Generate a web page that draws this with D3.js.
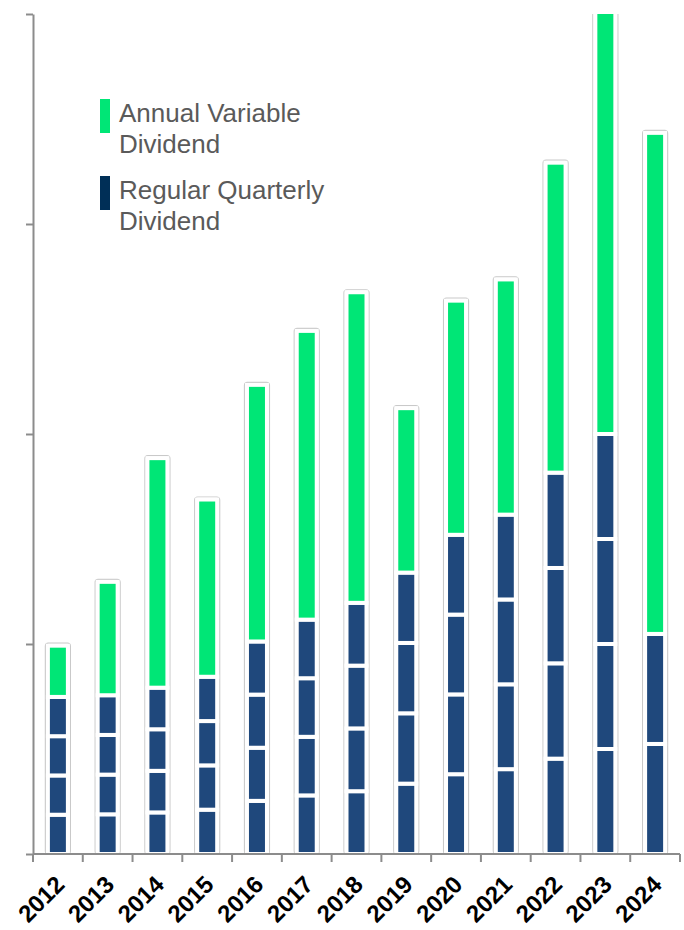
<!DOCTYPE html>
<html>
<head>
<meta charset="utf-8">
<script src="https://cdn.jsdelivr.net/npm/d3@7"></script>
<style>
  html, body { margin: 0; padding: 0; background: #ffffff; }
  svg { display: block; }
</style>
</head>
<body>
<svg id="chart" width="684" height="930"></svg>
<script>
// ---- data (values in axis-tick units) ----
const years = ["2012","2013","2014","2015","2016","2017","2018","2019","2020","2021","2022","2023","2024"];
const quarter1 = [0.187,0.189,0.198,0.211,0.253,0.279,0.299,0.335,0.380,0.404,0.454,0.500,0.524];
const quarter2 = [0.187,0.189,0.198,0.211,0.253,0.279,0.299,0.335,0.380,0.404,0.454,0.500,0.524];
const quarter3 = [0.187,0.189,0.198,0.211,0.253,0.279,0.299,0.335,0.380,0.404,0.454,0.500,0];
const quarter4 = [0.187,0.189,0.198,0.211,0.253,0.279,0.299,0.335,0.380,0.404,0.454,0.500,0];
const annualVariable = [0.244,0.540,1.093,0.844,1.222,1.375,1.479,0.783,1.115,1.120,1.476,2.050,2.386];
const yTickValues = [0,1,2,3,4];
const legendLabels = [["Annual Variable","Dividend"],["Regular Quarterly","Dividend"]];

// ---- layout / style ----
const W = 684, H = 930;
const mLeft = 33, mRight = 680, mTop = 14, mBottom = 854;
const colVariable = "#00e676";
const colQuarter = "#1f487c";
const colQuarterLegend = "#002f57";
const axisColor = "#8c8c8c";
const fontFamily = "'Liberation Sans', Arial, Helvetica, sans-serif";

const svg = d3.select("#chart");

const rows = years.map((yr, i) => ({
  year: yr, q1: quarter1[i], q2: quarter2[i], q3: quarter3[i], q4: quarter4[i], variable: annualVariable[i]
}));
const keys = ["q1","q2","q3","q4","variable"];
const stacked = d3.stack().keys(keys)(rows);

const x = d3.scaleBand().domain(years).range([mLeft, mRight]).paddingInner(0).paddingOuter(0);
const y = d3.scaleLinear().domain([0, 4]).range([mBottom, mTop]);

// clip to plot area
svg.append("defs").append("clipPath").attr("id", "plotClip")
  .append("rect").attr("x", 0).attr("y", mTop).attr("width", W).attr("height", mBottom - mTop + 2);

const plot = svg.append("g").attr("clip-path", "url(#plotClip)");

const cx = d => x(d) + x.bandwidth() / 2;
const totals = rows.map(r => keys.reduce((s, k) => s + r[k], 0));

// bar containers (white with light grey outline)
plot.selectAll("rect.container").data(rows).join("rect")
  .attr("class", "container")
  .attr("x", d => cx(d.year) - 12.5)
  .attr("width", 25)
  .attr("y", (d, i) => y(totals[i]) - 2.5)
  .attr("height", (d, i) => mBottom - y(totals[i]) + 2.5)
  .attr("rx", 3).attr("ry", 3)
  .attr("fill", "#ffffff")
  .attr("stroke", "#c9c9c9")
  .attr("stroke-width", 1.2);

// segments
stacked.forEach(layer => {
  const color = layer.key === "variable" ? colVariable : colQuarter;
  plot.append("g").selectAll("rect").data(layer.filter(d => d[1] - d[0] > 0)).join("rect")
    .attr("x", d => cx(d.data.year) - 10)
    .attr("width", 20)
    .attr("y", d => y(d[1]))
    .attr("height", d => y(d[0]) - y(d[1]))
    .attr("fill", color)
    .attr("stroke", "#ffffff")
    .attr("stroke-width", 4);
});

// y axis
const yAxis = svg.append("g").attr("transform", `translate(${mLeft},0)`)
  .call(d3.axisLeft(y).tickValues(yTickValues).tickSize(7).tickSizeOuter(0).tickFormat(""));
yAxis.selectAll("path, line").attr("stroke", axisColor).attr("stroke-width", 2);

// x axis: baseline + ticks at band edges
const xAxis = svg.append("g").attr("transform", `translate(0,${mBottom})`);
xAxis.append("line").attr("x1", mLeft).attr("x2", mRight).attr("y1", 0).attr("y2", 0)
  .attr("stroke", axisColor).attr("stroke-width", 2);
const edges = years.map(d => x(d)).concat([x(years[years.length - 1]) + x.bandwidth()]);
xAxis.selectAll("line.tick").data(edges).join("line").attr("class", "tick")
  .attr("x1", d => d).attr("x2", d => d).attr("y1", 0).attr("y2", 8)
  .attr("stroke", axisColor).attr("stroke-width", 2);

xAxis.selectAll("text.lbl").data(years).join("text").attr("class", "lbl")
  .attr("transform", d => `translate(${cx(d) + 8},32) rotate(-45)`)
  .attr("text-anchor", "end")
  .attr("font-family", fontFamily)
  .attr("font-weight", "bold")
  .attr("font-size", 24)
  .attr("fill", "#000000")
  .text(d => d);

// legend
const legend = svg.append("g");
const legendItems = [
  { color: colVariable, y: 99, lines: legendLabels[0] },
  { color: colQuarterLegend, y: 176, lines: legendLabels[1] }
];
legendItems.forEach(item => {
  legend.append("rect").attr("x", 100).attr("y", item.y).attr("width", 10).attr("height", 34)
    .attr("fill", item.color);
  const t = legend.append("text")
    .attr("x", 119).attr("y", item.y + 22.7)
    .attr("font-family", fontFamily).attr("font-size", 26).attr("fill", "#5a5a5a");
  item.lines.forEach((ln, j) => {
    t.append("tspan").attr("x", 119).attr("dy", j === 0 ? 0 : 31.5).text(ln);
  });
});
</script>
</body>
</html>
